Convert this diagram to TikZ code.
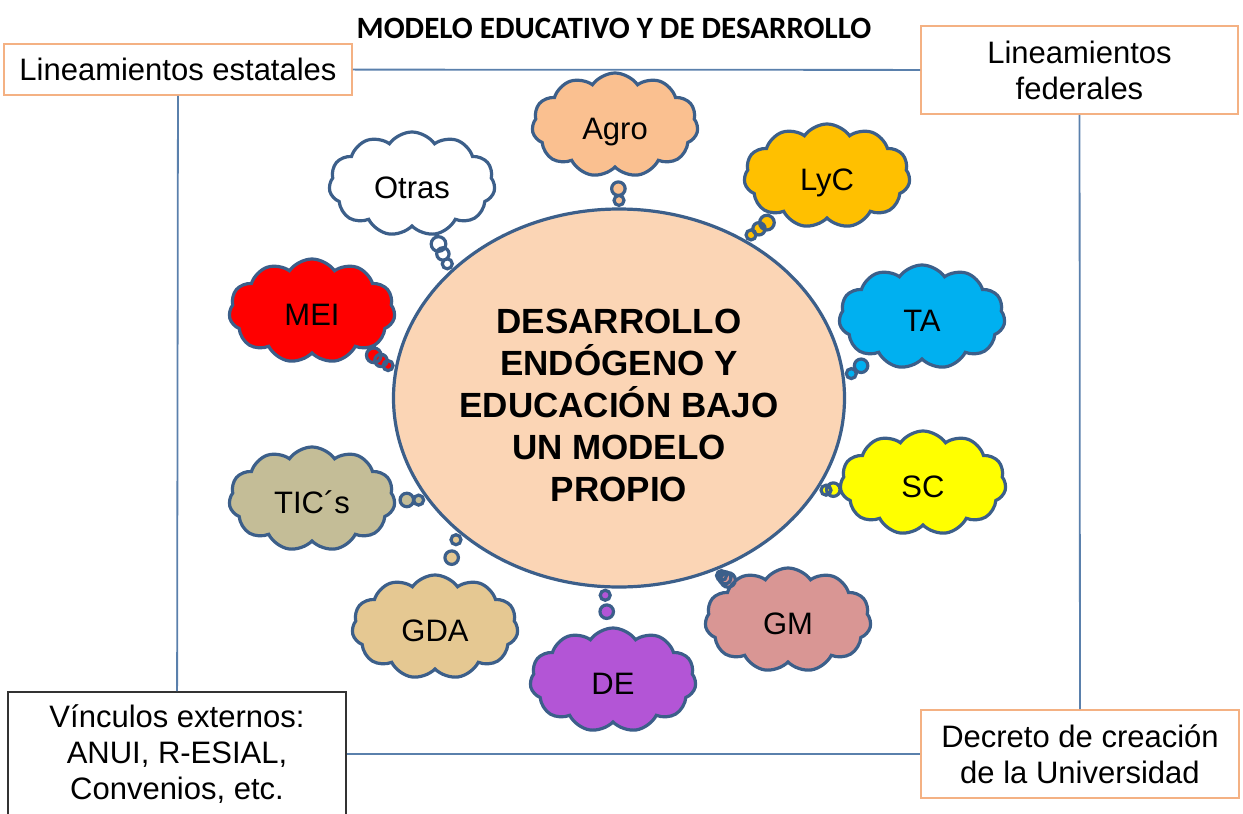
\documentclass[tikz,border=0pt]{standalone}
\usepackage{fontspec}
\setmainfont{Liberation Sans}
\newfontfamily\titlefont{Carlito}
\usetikzlibrary{shapes.callouts,shapes.geometric,calc}
\definecolor{edge}{HTML}{3C5F8A}
\definecolor{frameline}{HTML}{5A80AC}
\definecolor{boxline}{HTML}{F4B183}
\definecolor{corefill}{HTML}{FBD5B5}
\definecolor{agrofill}{HTML}{FAC090}
\definecolor{lycfill}{HTML}{FFC000}
\definecolor{tafill}{HTML}{00B0F0}
\definecolor{scfill}{HTML}{FFFF00}
\definecolor{gmfill}{HTML}{D99694}
\definecolor{defill}{HTML}{B355D6}
\definecolor{gdafill}{HTML}{E5C892}
\definecolor{ticsfill}{HTML}{C4BD97}
\definecolor{meifill}{HTML}{FF0000}
\begin{document}
\begin{tikzpicture}[x=0.5pt,y=-0.5pt]
\tikzstyle{every node}+=[inner sep=0pt]
\tikzstyle{thought}=[cloud callout, draw=edge, line width=1.6pt, cloud puffs=11, cloud puff arc=110, cloud ignores aspect, minimum width=83pt, minimum height=52pt, text height=14pt, text depth=0pt, callout pointer start size=8.5pt, callout pointer end size=5pt, callout pointer segments=2, font=\fontsize{15.5}{18}\selectfont]
\tikzstyle{points to}=[callout absolute pointer={($(core.#1)!-3.5pt!(core.center)$)}]
\tikzstyle{framebox}=[draw=boxline, line width=0.9pt, fill=white, align=center, font=\fontsize{15.5}{18}\selectfont]
\useasboundingbox (0,0) rectangle (1243,814);
\node (title) at (614,28) {\titlefont\bfseries\fontsize{15.5}{18}\selectfont MODELO EDUCATIVO Y DE DESARROLLO};
\node[framebox, minimum width=174pt, minimum height=25.5pt] (estatales) at (178,69.5) {Lineamientos estatales};
\node[framebox, minimum width=158.5pt, minimum height=44pt] (federales) at (1079.5,70) {Lineamientos\\federales};
\node[framebox, draw=black!80, minimum width=169pt, minimum height=62pt] (vinculos) at (177,754) {Vínculos externos:\\ANUI, R-ESIAL,\\Convenios, etc.};
\node[framebox, minimum width=159pt, minimum height=44pt] (decreto) at (1080,754) {Decreto de creación\\de la Universidad};
\draw [frameline, line width=0.9pt] (estatales) -- (federales);
\draw [frameline, line width=0.9pt] (estatales) -- (vinculos);
\draw [frameline, line width=0.9pt] (federales) -- (decreto);
\draw [frameline, line width=0.9pt] (vinculos) -- (decreto);
\node[ellipse, draw=edge, line width=1.6pt, fill=corefill, minimum width=224pt, minimum height=189pt, align=center, font=\fontsize{17.5}{21}\selectfont\bfseries] (core) at (619,398) {\rule{0pt}{20pt}DESARROLLO\\ENDÓGENO Y\\EDUCACIÓN BAJO\\UN MODELO\\PROPIO};
\node[thought, fill=agrofill, points to=90] (agro) at (615,125) {Agro};
\node[thought, fill=lycfill, callout pointer segments=3, points to=51] (lyc) at (827,176) {LyC};
\node[thought, fill=tafill, points to=6] (ta) at (922,317) {TA};
\node[thought, fill=scfill, points to=-24] (sc) at (923,483) {SC};
\node[thought, fill=gmfill, callout pointer segments=3, points to=-60] (gm) at (788,620) {GM};
\node[thought, fill=defill, points to=-94] (de) at (613,680) {DE};
\node[thought, fill=gdafill, points to=-139] (gda) at (435,627) {GDA};
\node[thought, fill=ticsfill, points to=-153] (tics) at (312,499) {TIC´s};
\node[thought, fill=meifill, callout pointer segments=3, points to=172] (mei) at (312,311) {MEI};
\node[thought, fill=white, callout pointer segments=3, points to=142] (otras) at (412,184) {Otras};
\end{tikzpicture}
\end{document}
